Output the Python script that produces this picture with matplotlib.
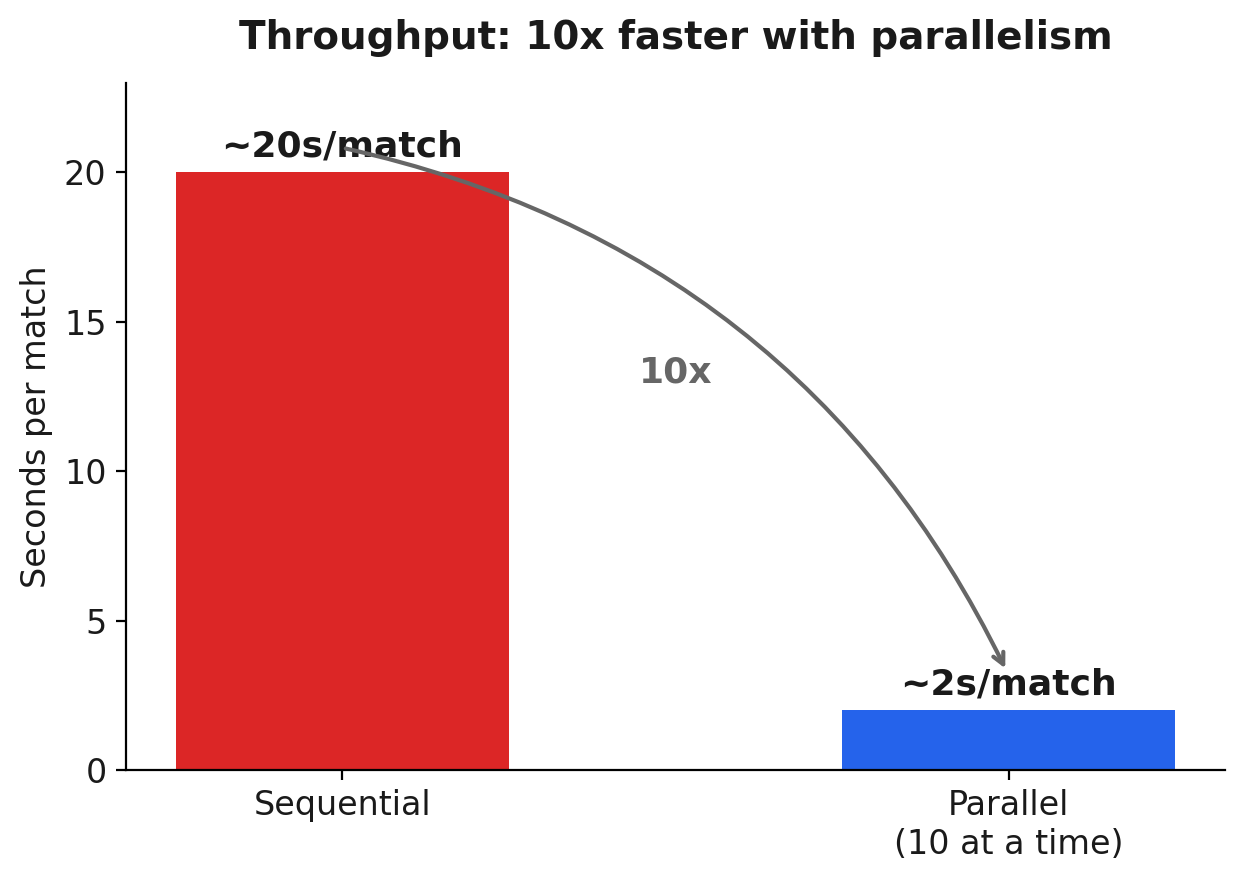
import matplotlib
matplotlib.use("Agg")
import matplotlib.pyplot as plt

categories = ["Sequential", "Parallel\n(10 at a time)"]
values = [20, 2]
labels = ["~20s/match", "~2s/match"]
colors = ["#DC2626", "#2563EB"]
speedup_label = "10x"

fig = plt.figure(figsize=(6.225, 4.405), dpi=200)
ax = fig.add_axes([0.1012, 0.126, 0.8828, 0.78])
x = list(range(len(categories)))
ax.bar(x, values, width=0.5, color=colors)
for xi, v, lab in zip(x, values, labels):
    ax.text(xi, v + 0.3, lab, ha="center", va="bottom", fontsize=13,
            fontweight="bold", color="#1a1a1a")

ax.annotate("", xy=(x[1] - 0.005, values[1] + 1.4), xytext=(x[0] + 0.005, values[0] + 0.8),
            arrowprops=dict(arrowstyle="->", color="#666666", lw=1.5,
                            connectionstyle="arc3,rad=-0.24", shrinkA=0, shrinkB=0))
ax.text(0.5, 13.3, speedup_label, ha="center", va="center", fontsize=13,
        fontweight="bold", color="#666666")

ax.set_xlim(-0.325, 1.325)
ax.set_ylim(0, 23)
ax.set_xticks(x)
ax.set_xticklabels(categories, fontsize=12, color="#1a1a1a")
ax.set_yticks([0, 5, 10, 15, 20])
ax.tick_params(axis="y", labelsize=12, labelcolor="#1a1a1a")
ax.set_ylabel("Seconds per match", fontsize=12, color="#1a1a1a")
ax.spines["top"].set_visible(False)
ax.spines["right"].set_visible(False)
ax.set_title("Throughput: 10x faster with parallelism", fontsize=14,
             fontweight="bold", color="#1a1a1a", pad=12)
fig.savefig("out.png", dpi=200)
